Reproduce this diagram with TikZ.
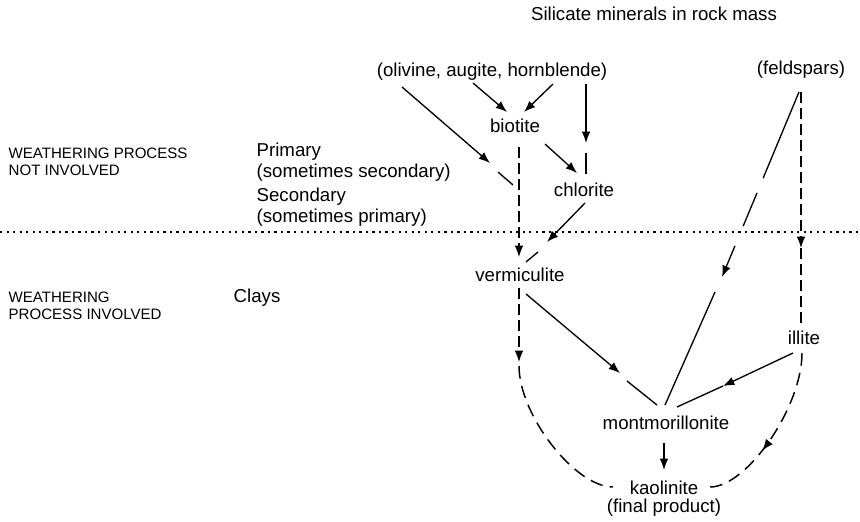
\documentclass[tikz,border=0pt]{standalone}
\usepackage{fontspec}
\setmainfont{Liberation Sans}
\usepackage{tikz}
\usetikzlibrary{calc, arrows.meta, decorations.markings}

\begin{document}
\begin{tikzpicture}[x=0.75pt, y=-0.75pt, line width=1pt,
    >={Latex[length=8.5pt, width=6.5pt]},
    mineral/.style={inner sep=0pt, font=\fontsize{14}{16}\selectfont},
    zone/.style={inner sep=0pt, anchor=west, align=left, font=\fontsize{11.3}{12.75}\selectfont},
    kind/.style={inner sep=0pt, anchor=west, align=left, font=\fontsize{14}{15.5}\selectfont},
    broken/.style={dash pattern=on 8pt off 4pt},
    sweep/.style={line width=1.1pt, dash pattern=on 9.5pt off 5.5pt}]
  \useasboundingbox (0, 0) rectangle (860, 521);

  \node[mineral] (title) at (654, 14) {Silicate minerals in rock mass};
  \node[mineral] (ferro) at (492, 72) {(olivine, augite, hornblende)};
  \node[mineral] (feld) at (801, 70) {(feldspars)};
  \node[mineral] (biot) at (515, 126) {biotite};
  \node[mineral] (chlor) at (584, 190) {chlorite};
  \node[mineral] (verm) at (520, 275) {vermiculite};
  \node[mineral] (illite) at (804, 338) {illite};
  \node[mineral] (mont) at (666, 423) {montmorillonite};
  \node[mineral, align=center] (kaol) at (664, 499) {kaolinite\\[-2.5pt](final product)};

  \node[zone] (notinv) at (8, 161.5) {WEATHERING PROCESS\\NOT INVOLVED};
  \node[zone] (inv) at (8, 305.5) {WEATHERING\\PROCESS INVOLVED};
  \node[kind] (prim) at (256, 162.5) {Primary\\(sometimes secondary)};
  \node[kind] (second) at (256, 207) {Secondary\\(sometimes primary)};
  \node[kind] (clays) at (233, 298) {Clays};

  \draw[line width=1.9pt, dash pattern=on 1.7pt off 3.2pt] (0, 232) -- (860, 232);

  \draw[->] ($(ferro)+(-19, 11)$) -- ($(biot)+(-8, -14)$);
  \draw[->] ($(ferro)+(61, 12)$) -- ($(biot)+(9, -14)$);
  \draw[->] ($(ferro)+(94, 12)$) -- ($(chlor)+(2, -47)$);
  \draw ($(chlor)+(2, -37)$) -- ($(chlor)+(2, -16)$);
  \draw[->] ($(ferro)+(-90, 15)$) -- ($(biot)+(-25, 37)$);
  \draw ($(biot)+(-17, 46)$) -- ($(biot)+(-2, 59)$);
  \draw[->] ($(biot)+(30, 18)$) -- ($(chlor)+(-7, -17)$);
  \draw[->, broken] ($(biot)+(4, 21)$) -- ($(verm)+(-1, -18)$);

  \draw[->] ($(chlor)+(1, 13)$) -- ($(verm)+(27, -33)$);
  \draw ($(verm)+(18, -23)$) -- ($(verm)+(6, -13)$);

  \draw[->, dash pattern=on 70pt off 12pt on 27pt off 16pt] ($(feld)+(-2, 22)$) -- ($(mont)+(56, -146)$);
  \draw ($(mont)+(49, -131)$) -- ($(mont)+(-1, -18)$);
  \draw[->, broken] ($(feld)+(0, 22)$) -- ($(illite)+(-3, -90)$);
  \draw[broken] ($(illite)+(-3, -90)$) -- ($(illite)+(-3, -11)$);

  \draw[->] ($(illite)+(-11, 15)$) -- ($(mont)+(57, -37)$);
  \draw ($(mont)+(57, -37)$) -- ($(mont)+(11, -16)$);
  \draw[->] ($(verm)+(6, 19)$) -- ($(mont)+(-46, -50)$);
  \draw ($(mont)+(-39, -42)$) -- ($(mont)+(-9, -18)$);

  \draw[->, broken] ($(verm)+(-1, 13)$) -- ($(verm)+(-1, 87)$);
  \draw[sweep] ($(verm)+(-1, 91)$) .. controls +(0, 49) and +(-38, 0) .. ($(kaol)+(-51, -12)$);
  \draw[sweep, postaction={decorate}, decoration={markings, mark=at position 0.62 with {\arrow{>}}}]
    ($(illite)+(-2, 15)$) .. controls +(0, 54) and +(37, 0) .. ($(kaol)+(46, -12)$);
  \draw[->] ($(mont)+(-2, 20)$) -- ($(kaol)+(0, -29)$);
\end{tikzpicture}
\end{document}
